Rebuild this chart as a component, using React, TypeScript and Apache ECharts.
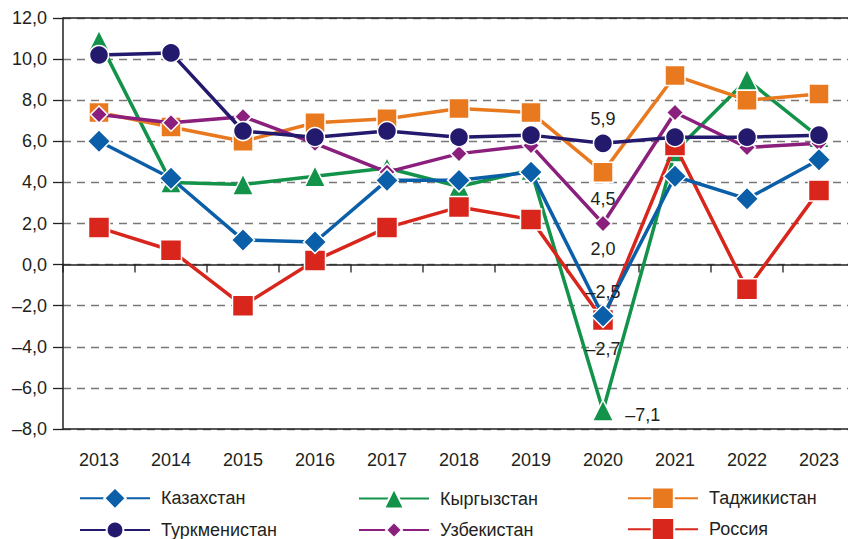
import React, { useEffect, useRef } from "react";
import * as echarts from "echarts";

const years = ["2013", "2014", "2015", "2016", "2017", "2018", "2019", "2020", "2021", "2022", "2023"];
const kazakhstan = [6.0, 4.2, 1.2, 1.1, 4.1, 4.1, 4.5, -2.5, 4.3, 3.2, 5.1];
const kyrgyzstan = [10.9, 4.0, 3.9, 4.3, 4.7, 3.8, 4.6, -7.1, 5.5, 9.0, 6.2];
const tajikistan = [7.4, 6.7, 6.0, 6.9, 7.1, 7.6, 7.4, 4.5, 9.2, 8.0, 8.3];
const turkmenistan = [10.2, 10.3, 6.5, 6.2, 6.5, 6.2, 6.3, 5.9, 6.2, 6.2, 6.3];
const uzbekistan = [7.3, 6.9, 7.2, 5.9, 4.5, 5.4, 5.8, 2.0, 7.4, 5.7, 5.9];
const russia = [1.8, 0.7, -2.0, 0.2, 1.8, 2.8, 2.2, -2.7, 5.8, -1.2, 3.6];

const fmt = (v: number) => v.toFixed(1).replace(".", ",").replace("-", "–");
const FONT = "'Liberation Sans', Arial, sans-serif";
const TXT = "#231f20";
const FS = 18;

function withLabel(values: number[], idx: number, position: any, offset?: number[]) {
  return values.map((v, i) =>
    i === idx
      ? {
          value: v,
          label: {
            show: true,
            position,
            offset: offset || [0, 0],
            formatter: (p: any) => fmt(p.value),
            fontSize: FS,
            fontFamily: FONT,
            color: TXT,
          },
        }
      : v
  );
}

export default function App() {
  const ref = useRef<HTMLDivElement>(null);
  useEffect(() => {
    const chart = echarts.init(ref.current!, undefined, { renderer: "svg" });
    const mk = (name: string, color: string, symbol: string, size: number, data: any[], z: number, extra: any = {}) => ({
      name,
      type: "line",
      data,
      z,
      symbol,
      symbolSize: size,
      lineStyle: { color, width: 3.5 },
      itemStyle: { color, borderColor: "#fff", borderWidth: 1.5 },
      ...extra,
    });
    // name, left, row center y, icon height
    const legendPos: [string, number, number, number][] = [
      ["Казахстан", 74, 500, 27],
      ["Туркменистан", 74, 531, 21],
      ["Кыргызстан", 353, 500, 25],
      ["Узбекистан", 353, 531, 20],
      ["Таджикистан", 622, 500, 27],
      ["Россия", 622, 531, 28],
    ];
    chart.setOption({
      animation: false,
      textStyle: { fontFamily: FONT },
      grid: { left: 63, right: -7, top: 18, bottom: 110, outerBoundsMode: "none", containLabel: false },
      xAxis: {
        type: "category",
        data: years,
        boundaryGap: true,
        axisLine: { onZero: true, lineStyle: { color: "#231f20", width: 1.5 } },
        axisTick: { show: false },
        axisLabel: { margin: 22, fontSize: FS, color: TXT, fontFamily: FONT },
      },
      yAxis: {
        type: "value",
        min: -8,
        max: 12,
        interval: 2,
        axisLine: { show: true, lineStyle: { color: "#231f20", width: 1.5 } },
        axisTick: { show: true, length: 10, lineStyle: { color: "#231f20", width: 1.3 } },
        axisLabel: { fontSize: FS, color: TXT, fontFamily: FONT, margin: 16, formatter: (v: number) => fmt(v) },
        splitLine: { show: true, lineStyle: { color: "#777", width: 1.3, type: [8, 6] } },
      },
      legend: legendPos.map(([name, left, cy, h]) => ({
        data: [name],
        left,
        top: cy - 5 - h / 2,
        itemWidth: 70,
        itemHeight: h,
        textStyle: { fontSize: FS, color: TXT, fontFamily: FONT, padding: [0, 0, 0, 6] },
      })),
      series: [
        {
          type: "custom",
          silent: true,
          z: 1,
          data: years.map((_, i) => [i, 0]),
          renderItem: (params: any, api: any) => {
            const c = api.coord([api.value(0), 0]);
            const w = api.size([1, 0])[0];
            const x = c[0] - w / 2;
            return {
              type: "line",
              shape: { x1: x, y1: c[1], x2: x, y2: c[1] + 8 },
              style: { stroke: "#231f20", lineWidth: 1.3 },
            };
          },
        },
        mk("Кыргызстан", "#13934a", "triangle", 21, withLabel(kyrgyzstan, 7, "right", [6, 4]), 2, {
          markLine: {
            silent: true,
            symbol: "none",
            label: { show: false },
            lineStyle: { color: "#231f20", width: 1.5, type: "solid" },
            data: [{ yAxis: 12 }, { yAxis: -8 }],
          },
        }),
        mk("Таджикистан", "#e8791e", "rect", 20, withLabel(tajikistan, 7, "bottom", [0, 2]), 3),
        mk("Россия", "#d9261c", "rect", 21, withLabel(russia, 7, "bottom", [0, 4]), 4),
        mk("Узбекистан", "#8b1f7d", "diamond", 17, withLabel(uzbekistan, 7, "bottom", [0, 2]), 5),
        mk("Казахстан", "#0b5ea8", "diamond", 23, withLabel(kazakhstan, 7, "top", [0, 2]), 6),
        mk("Туркменистан", "#231a6e", "circle", 19, withLabel(turkmenistan, 7, "top", [0, 0]), 7),
      ],
    });
    return () => chart.dispose();
  }, []);
  return <div ref={ref} style={{ width: 848, height: 539, position: "absolute", left: 0, top: 0 }} />;
}
